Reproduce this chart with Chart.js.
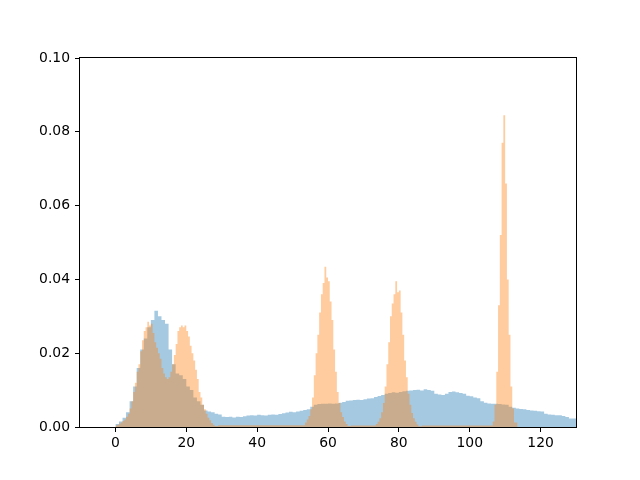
<!DOCTYPE html>
<html>
<head>
<meta charset="utf-8">
<script src="https://cdn.jsdelivr.net/npm/chart.js"></script>
<style>
  body { margin: 0; background: #fff; }
</style>
</head>
<body>
<canvas id="myChart" width="640" height="480"></canvas>
<script>
// blue histogram, 1-unit bins starting at x = 0
const blueStart = 0;
const blueStep = 1;
const blueDensity = [
  0.0003, 0.0008, 0.0015, 0.0025, 0.004, 0.007, 0.011, 0.016, 0.021, 0.024,
  0.027, 0.029, 0.0315, 0.030, 0.029, 0.028, 0.021, 0.017, 0.0145, 0.014,
  0.013, 0.011, 0.010, 0.008, 0.007, 0.006, 0.0045, 0.0042, 0.004, 0.0036,
  0.0034, 0.0028, 0.0027, 0.0028, 0.0026, 0.0028, 0.0027, 0.0029, 0.0031, 0.0032,
  0.0031, 0.0033, 0.0032, 0.0031, 0.0033, 0.0034, 0.0033, 0.0035, 0.0037, 0.0039,
  0.0041, 0.004, 0.0042, 0.0044, 0.0046, 0.0048, 0.0055, 0.006, 0.0062, 0.0063,
  0.0063, 0.0064, 0.0063, 0.0064, 0.0066, 0.0068, 0.0071, 0.0072, 0.0073, 0.0074,
  0.0073, 0.0075, 0.0077, 0.0078, 0.0081, 0.0084, 0.0087, 0.009, 0.0092, 0.0094,
  0.0093, 0.0095, 0.0097, 0.0098, 0.0099, 0.01, 0.0101, 0.0099, 0.0102, 0.0100,
  0.0098, 0.009, 0.0088, 0.0087, 0.009, 0.0095, 0.0096, 0.0094, 0.0092, 0.009,
  0.0085, 0.0083, 0.008, 0.0078, 0.007, 0.0066, 0.0064, 0.0063, 0.0063, 0.0062,
  0.0061, 0.006, 0.0055, 0.0052, 0.005, 0.0049, 0.0048, 0.0046, 0.0045, 0.0044,
  0.0043, 0.0042, 0.0036, 0.0034, 0.0033, 0.0032, 0.0032, 0.003, 0.0027, 0.0023
];

// orange histogram, 0.5-unit bins, one array per peak
const orangeStep = 0.5;
const orangeStarts = [0, 53.5, 73.5, 106.5];
const orangePeak20 = [
  0.0002, 0.0004, 0.0006, 0.0009, 0.0012, 0.0016, 0.002, 0.0028, 0.0036, 0.005,
  0.007, 0.0095, 0.012, 0.015, 0.017, 0.0205, 0.0235, 0.026, 0.027, 0.0285,
  0.0275, 0.028, 0.0255, 0.023, 0.0215, 0.02, 0.0185, 0.016, 0.0145, 0.0135,
  0.013, 0.0135, 0.015, 0.017, 0.0195, 0.0225, 0.026, 0.027, 0.0275, 0.027,
  0.0275, 0.026, 0.0245, 0.022, 0.02, 0.018, 0.0155, 0.013, 0.0095, 0.008,
  0.006, 0.0048, 0.0036, 0.0025, 0.0018, 0.0011, 0.0006, 0.0003
];
const orangePeak60 = [
  0.0005, 0.0012, 0.002, 0.003, 0.0048, 0.008, 0.014, 0.02, 0.025, 0.031,
  0.036, 0.039, 0.0434, 0.0405, 0.0395, 0.034, 0.029, 0.021, 0.015, 0.0095,
  0.0065, 0.004, 0.0027, 0.0015, 0.0008, 0.0003
];
const orangePeak80 = [
  0.0004, 0.0008, 0.0014, 0.0024, 0.004, 0.0065, 0.011, 0.017, 0.023, 0.03,
  0.0335, 0.036, 0.0395, 0.0365, 0.037, 0.031, 0.025, 0.018, 0.0135, 0.009,
  0.006, 0.0038, 0.0024, 0.0014, 0.0007, 0.0002
];
const orangePeak110 = [
  0.0004, 0.0015, 0.006, 0.015, 0.033, 0.052, 0.077, 0.0845, 0.066, 0.04,
  0.025, 0.011, 0.005, 0.0012
];
const orangePeaks = [orangePeak20, orangePeak60, orangePeak80, orangePeak110];

const xTicks = [0, 20, 40, 60, 80, 100, 120];
const yTicks = [0, 0.02, 0.04, 0.06, 0.08, 0.1];

// bins -> points for a stepped filled line (x = left edge of bin)
function stepPoints(start, step, values) {
  const pts = values.map((v, k) => ({x: start + k * step, y: v}));
  const end = start + values.length * step;
  pts.push({x: end, y: values[values.length - 1]});
  pts.push({x: end, y: 0});
  return pts;
}

const bluePoints = stepPoints(blueStart, blueStep, blueDensity);
let orangePoints = [];
orangePeaks.forEach((p, i) => {
  orangePoints = orangePoints.concat(stepPoints(orangeStarts[i], orangeStep, p));
});

const frame = {
  id: 'frame',
  afterDatasetsDraw: (chart) => {
    const a = chart.chartArea;
    const ctx = chart.ctx;
    ctx.save();
    ctx.strokeStyle = '#000';
    ctx.lineWidth = 1;
    ctx.strokeRect(Math.round(a.left) - 0.5, Math.round(a.top) - 0.5,
      Math.round(a.right - a.left) + 1, Math.round(a.bottom - a.top) + 1);
    ctx.restore();
  }
};

const tickFont = {family: 'DejaVu Sans', size: 13.9};

const config = {
  type: 'line',
  data: {
    datasets: [{
      label: 'blue',
      data: bluePoints,
      stepped: 'after',
      fill: 'origin',
      backgroundColor: 'rgba(31, 119, 180, 0.4)',
      borderColor: 'transparent',
      borderWidth: 0,
      pointRadius: 0,
      order: 2
    }, {
      label: 'orange',
      data: orangePoints,
      stepped: 'after',
      fill: 'origin',
      backgroundColor: 'rgba(255, 127, 14, 0.4)',
      borderColor: 'transparent',
      borderWidth: 0,
      pointRadius: 0,
      order: 1
    }]
  },
  options: {
    responsive: false,
    animation: false,
    layout: {padding: {left: 0, top: 58, right: 64, bottom: 0}},
    plugins: {
      legend: {display: false},
      tooltip: {enabled: false}
    },
    scales: {
      x: {
        type: 'linear',
        min: -10,
        max: 130,
        afterFit: (s) => { s.height = 53; },
        afterBuildTicks: (s) => { s.ticks = xTicks.map(v => ({value: v})); },
        grid: {display: true, drawOnChartArea: false, drawTicks: true, tickLength: 5, tickColor: '#000'},
        border: {display: false},
        ticks: {color: '#000', font: tickFont, padding: 3, maxRotation: 0,
          callback: (v) => String(v)}
      },
      y: {
        type: 'linear',
        min: 0,
        max: 0.1,
        afterFit: (s) => { s.width = 80; },
        afterBuildTicks: (s) => { s.ticks = yTicks.map(v => ({value: v})); },
        grid: {display: true, drawOnChartArea: false, drawTicks: true, tickLength: 5, tickColor: '#000'},
        border: {display: false},
        ticks: {color: '#000', font: tickFont, padding: 5,
          callback: (v) => v.toFixed(2)}
      }
    }
  },
  plugins: [frame]
};

const myChart = new Chart(document.getElementById('myChart'), config);
</script>
</body>
</html>
